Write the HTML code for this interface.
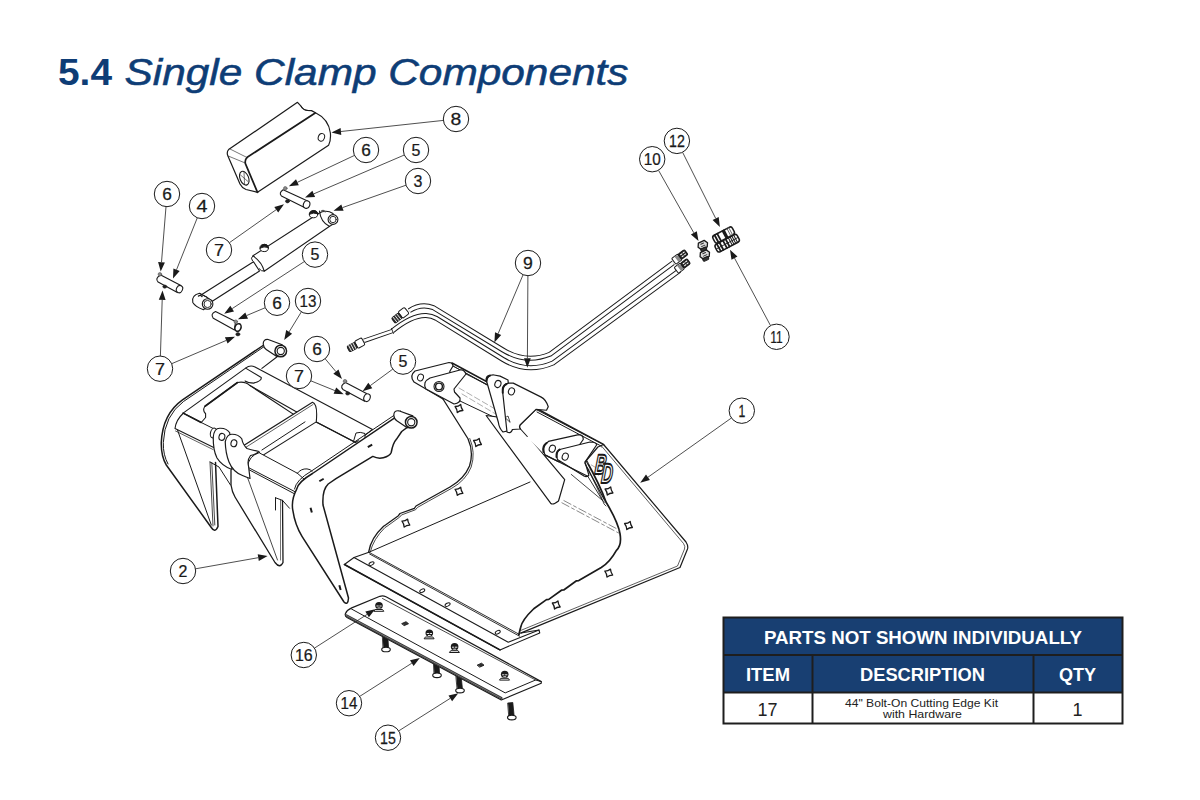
<!DOCTYPE html>
<html><head><meta charset="utf-8">
<style>
html,body{margin:0;padding:0;background:#fff;}
body{width:1200px;height:800px;overflow:hidden;position:relative;font-family:"Liberation Sans",sans-serif;}
svg{position:absolute;left:0;top:0;}
</style></head>
<body>
<svg width="1200" height="800" viewBox="0 0 1200 800" font-family="Liberation Sans">
<!-- TITLE -->
<g fill="#0e3d76">
<text x="58" y="85" font-size="37" font-weight="bold" textLength="54" lengthAdjust="spacingAndGlyphs">5.4</text>
<text x="124.5" y="85" font-size="37" font-style="italic" stroke="#0e3d76" stroke-width="0.55" textLength="504" lengthAdjust="spacingAndGlyphs">Single Clamp Components</text>
</g>
<!-- TABLE -->
<g>
<rect x="723.5" y="617.5" width="399" height="75" fill="#183f72"/>
<rect x="723.5" y="617.5" width="399" height="106" fill="none" stroke="#1e1e1e" stroke-width="2"/>
<line x1="723.5" y1="655" x2="1122.5" y2="655" stroke="#1e1e1e" stroke-width="2"/>
<line x1="723.5" y1="692.5" x2="1122.5" y2="692.5" stroke="#1e1e1e" stroke-width="2"/>
<line x1="812.5" y1="655" x2="812.5" y2="723.5" stroke="#1e1e1e" stroke-width="2"/>
<line x1="1033.5" y1="655" x2="1033.5" y2="723.5" stroke="#1e1e1e" stroke-width="2"/>
<g fill="#fff" font-weight="bold" font-size="18">
<text x="764" y="643.5" textLength="318" lengthAdjust="spacingAndGlyphs">PARTS NOT SHOWN INDIVIDUALLY</text>
<text x="746" y="681" textLength="44" lengthAdjust="spacingAndGlyphs">ITEM</text>
<text x="860" y="681" textLength="125" lengthAdjust="spacingAndGlyphs">DESCRIPTION</text>
<text x="1059" y="681" textLength="37" lengthAdjust="spacingAndGlyphs">QTY</text>
</g>
<g fill="#222" font-size="18">
<text x="767.5" y="716" text-anchor="middle">17</text>
<text x="1077.5" y="716" text-anchor="middle">1</text>
</g>
<g fill="#222" font-size="11">
<text x="845" y="707" textLength="153" lengthAdjust="spacingAndGlyphs">44" Bolt-On Cutting Edge Kit</text>
<text x="883" y="718" textLength="79" lengthAdjust="spacingAndGlyphs">with Hardware</text>
</g>
</g>
<!-- DIAGRAM -->
<g fill="#fff" stroke="#1a1a1a" stroke-width="1.2" stroke-linejoin="round" stroke-linecap="round">
<!-- 05_hoses.svg -->
<g id="p9" fill="none">
<!-- hose A (upper) -->
<path d="M409.3,310.7 Q421,303 433.3,307.6 L503,350 Q526,364 550,354.2 L673.25,262.75" stroke="#1a1a1a" stroke-width="5" stroke-linecap="butt"/>
<path d="M409.3,310.7 Q421,303 433.3,307.6 L503,350 Q526,364 550,354.2 L673.25,262.75" stroke="#fff" stroke-width="3" stroke-linecap="butt"/>
<!-- hose B (lower) -->
<path d="M392.3,331 Q412,315 426,315.5 Q432,316 436,318.2 L503,359.5 Q527,374 553,363 L679.5,270.5" stroke="#1a1a1a" stroke-width="5" stroke-linecap="butt"/>
<path d="M392.3,331 Q412,315 426,315.5 Q432,316 436,318.2 L503,359.5 Q527,374 553,363 L679.5,270.5" stroke="#fff" stroke-width="3" stroke-linecap="butt"/>
<!-- thin tube B -->
<path d="M364,340.8 L392.5,331" stroke="#1a1a1a" stroke-width="4.4" stroke-linecap="butt"/>
<path d="M364,340.8 L392.5,331" stroke="#fff" stroke-width="2.6" stroke-linecap="butt"/>
<path d="M391.5,328.5 L393.5,333.5" stroke-width="0.8"/>
</g>
<g id="hosefit" stroke-width="1">
<!-- left fitting A -->
<g transform="translate(402,314) rotate(-38)">
<rect x="-2" y="-4" width="8" height="8" rx="1.5" fill="#fff"/>
<rect x="-11" y="-3.2" width="9" height="6.4" rx="1.5" fill="#333"/>
<path d="M-9,-3 v6 M-6.5,-3 v6 M-4,-3 v6" stroke="#fff" stroke-width="0.8"/>
</g>
<!-- left fitting B -->
<g transform="translate(358,344) rotate(-28)">
<rect x="-2" y="-4" width="8" height="8" rx="1.5" fill="#fff"/>
<rect x="-11" y="-3.2" width="9" height="6.4" rx="1.5" fill="#333"/>
<path d="M-9,-3 v6 M-6.5,-3 v6 M-4,-3 v6" stroke="#fff" stroke-width="0.8"/>
</g>
<!-- right fittings -->
<g transform="translate(677,259) rotate(-37)">
<rect x="-4" y="-3.6" width="7.5" height="7.2" rx="1" fill="#fff"/>
<path d="M-0.5,-3.6 L3.5,-2.5 L3.5,2.5 L-0.5,3.6 Z" fill="#888" stroke="none"/>
<rect x="3.5" y="-3" width="8" height="6" rx="1.5" fill="#222" stroke-width="1.2"/>
<path d="M5.5,-1.2 h1.5 M8.5,-1.2 h1.5 M5.5,1.2 h1.5 M8.5,1.2 h1.5" stroke="#fff" stroke-width="1"/>
</g>
<g transform="translate(679.5,268) rotate(-37)">
<rect x="-4" y="-3.6" width="7.5" height="7.2" rx="1" fill="#fff"/>
<path d="M-0.5,-3.6 L3.5,-2.5 L3.5,2.5 L-0.5,3.6 Z" fill="#888" stroke="none"/>
<rect x="3.5" y="-3" width="8" height="6" rx="1.5" fill="#222" stroke-width="1.2"/>
<path d="M5.5,-1.2 h1.5 M8.5,-1.2 h1.5 M5.5,1.2 h1.5 M8.5,1.2 h1.5" stroke="#fff" stroke-width="1"/>
</g>
</g>
<g id="p10-12" stroke-width="1">
<!-- adapters 10 -->
<g transform="translate(702.8,245) rotate(-25)">
<path d="M-3.2,-3.6 h6.4 l2,3.6 l-2,3.6 h-6.4 l-2,-3.6 z" fill="#ddd" stroke-width="1.3"/>
<path d="M-1.5,-1.5 h3 M-1.8,1 h3.6" stroke="#333" stroke-width="1"/>
<rect x="-4" y="2.8" width="6" height="3.2" rx="1.2" fill="#333"/>
</g>
<g transform="translate(704.8,254.5) rotate(-25)">
<path d="M-3.2,-3.6 h6.4 l2,3.6 l-2,3.6 h-6.4 l-2,-3.6 z" fill="#ddd" stroke-width="1.3"/>
<path d="M-1.5,-1.5 h3 M-1.8,1 h3.6" stroke="#333" stroke-width="1"/>
<rect x="-4" y="2.8" width="6" height="3.2" rx="1.2" fill="#333"/>
</g>
<!-- coupler 11/12 : lower cylinder -->
<g transform="translate(727.2,243.2) rotate(-28)">
<rect x="-12.5" y="-4.2" width="25" height="8.4" rx="2.5" fill="#fff" stroke-width="1.5"/>
<path d="M-9.5,-4 v8 M-6.5,-4 v8 M-2.5,-4 v8 M0.5,-4 v8" stroke-width="1.8"/>
<path d="M3.5,-4 v8 M5.5,-4 v8 M7.5,-4 v8 M9.5,-4 v8" stroke-width="1"/>
<path d="M-12,0 h24" stroke-width="0.8"/>
</g>
<!-- upper cylinder -->
<g transform="translate(723.6,235) rotate(-28)">
<rect x="-11" y="-4.2" width="22" height="8.4" rx="2.5" fill="#fff" stroke-width="1.5"/>
<path d="M-8,-4 v8 M-5,-4 v8 M1,-4 v8 M2.5,-4 v8" stroke-width="1.8"/>
<path d="M6,-4 v8 M8,-4 v8" stroke-width="0.8" stroke="#555"/>
</g>
</g>

<!-- 10_box8.svg -->
<g id="p8">
<path d="M297.5,102.3 L228.6,149.6 Q226.6,151.6 227.6,155.2 L240,184 Q242,188 246,189.5 L257.5,192.3 L328.6,145.2 Q331,141 330.4,133 Q328.5,119 315.5,112.8 L311.5,110.6 L307.5,110.4 Q303,109.8 301,106.2 Z" stroke-width="1.2"/>
<path d="M301,106.2 Q303.5,111 309,110.6" fill="none" stroke-width="0.9"/>
<path d="M315.2,113 L247.2,157.3 Q244.6,159.6 245.4,163.6 L257.5,192.3" fill="none" stroke-width="1.7"/>
<path d="M230,149 L246.8,157.4 M228.2,156 L245.2,163" fill="none" stroke-width="0.6"/>
<ellipse cx="244.3" cy="178.2" rx="4.3" ry="7.2" transform="rotate(-22 244.3 178.2)" stroke-width="1.1"/>
<path d="M240.5,175 L248,181.5 M244,172 L244.6,184.5" fill="none" stroke-width="0.6"/>
<ellipse cx="321.4" cy="137.3" rx="3.1" ry="3.9" transform="rotate(20 321.4 137.3)" stroke-width="1"/>
</g>

<!-- 20_cyl3.svg -->
<g id="p3">
<!-- rod -->
<path d="M201,295 L253.5,261.7 L259.5,271 L211.5,301.8 Z" stroke-width="1.1"/>
<!-- rod end block & eye -->
<path d="M199.5,293.3 Q191,295.5 192.8,302.5 Q195,306.5 203.5,309.8 L212.5,301.5 L206.5,297 Z" stroke-width="1.1"/>
<path d="M199.5,293.5 L206.5,297" fill="none" stroke-width="1"/>
<circle cx="207.6" cy="304" r="5.3" stroke-width="1.1"/>
<circle cx="207.6" cy="304" r="3.6" stroke-width="0.9"/>
<path d="M198.5,296 q2,-1.5 3.5,0.5" fill="none" stroke-width="1.4"/>
<!-- barrel -->
<path d="M252.9,255.8 L318.5,213.5 Q326,209 333,213.5 Q339,222 330,226 L264.2,271.2 Q262,262 252.9,255.8 Z" stroke-width="1.1"/>
<path d="M252.9,255.8 Q250,258 252.4,260.8 M259.1,268.7 Q261,271.5 264.2,271.2" fill="none" stroke-width="1"/>
<path d="M319.5,211 Q320.5,222 329.6,226.5" fill="none" stroke-width="1.1"/>
<circle cx="333" cy="219.5" r="4.9" stroke-width="1.1"/>
<circle cx="333" cy="219.5" r="3.2" stroke-width="0.9"/>
<path d="M321.5,211 q2,-1.5 3.8,0.8" fill="none" stroke-width="1.4" stroke="#555"/>
<!-- grease fittings -->
<ellipse cx="264.2" cy="248" rx="4.2" ry="3.6" stroke-width="1"/>
<path d="M260.2,248 Q261,244.5 264.5,244.3 Q268,244.5 268.3,247.5 Q264,246 260.2,248 Z" fill="#1a1a1a" stroke-width="1"/>
<ellipse cx="313.5" cy="214.2" rx="4.2" ry="3.6" stroke-width="1"/>
<path d="M309.5,214.2 Q310.3,210.7 313.8,210.5 Q317.3,210.7 317.6,213.7 Q313.3,212.2 309.5,214.2 Z" fill="#1a1a1a" stroke-width="1"/>
</g>

<!-- 30_pins.svg -->
<g id="pins">
<!-- top pin 5 -->
<path d="M283.1,189.8 L307.6,201.1 L305,207.7 L281.4,195.9 Q278.5,193 283.1,189.8 Z" stroke-width="1.1"/>
<ellipse cx="306.6" cy="204.6" rx="3.2" ry="3.8" transform="rotate(20 306.6 204.6)" stroke-width="1.1"/>
<circle cx="285.3" cy="188.3" r="1.8" fill="#888" stroke="#555" stroke-width="0.6"/>
<ellipse cx="287.5" cy="201.2" rx="2" ry="1.7" fill="#222" stroke="#222" stroke-width="0.6"/>
<!-- left pin 4 -->
<path d="M160.7,275.1 L180.9,285.6 L177.4,292.6 L158.1,282.1 Q154.5,278.5 160.7,275.1 Z" stroke-width="1.1"/>
<ellipse cx="179.5" cy="289.1" rx="3" ry="3.8" transform="rotate(25 179.5 289.1)" stroke-width="1.1"/>
<circle cx="159.9" cy="274.3" r="1.8" fill="#888" stroke="#555" stroke-width="0.6"/>
<ellipse cx="164.8" cy="286.6" rx="2" ry="1.6" fill="#222" stroke="#222" stroke-width="0.6"/>
<!-- mid pin 5 -->
<path d="M215.5,311.5 L235.5,321.5 L234.5,330 L213.3,318.3 Q210,314 215.5,311.5 Z" stroke-width="1.1"/>
<ellipse cx="238" cy="327.5" rx="3" ry="3.9" transform="rotate(20 238 327.5)" stroke-width="1.6"/>
<circle cx="235.8" cy="321.7" r="1.8" fill="#888" stroke="#555" stroke-width="0.6"/>
<ellipse cx="237.9" cy="334.2" rx="2" ry="1.7" fill="#222" stroke="#222" stroke-width="0.6"/>
<!-- lower pin 5 -->
<path d="M345.5,382.4 L366.5,393.4 L364.7,401.2 L342.9,389.4 Q339.5,385.5 345.5,382.4 Z" stroke-width="1.1"/>
<ellipse cx="367" cy="397.7" rx="3.1" ry="3.9" transform="rotate(22 367 397.7)" stroke-width="1.1"/>
<circle cx="345" cy="381.2" r="1.8" fill="#888" stroke="#555" stroke-width="0.6"/>
<ellipse cx="347.7" cy="393.4" rx="2" ry="1.7" fill="#222" stroke="#222" stroke-width="0.6"/>
</g>

<!-- 40_bucket.svg -->
<g id="p1" fill="none">
<!-- left plate bottom edge -->
<path d="M368.9,552.25 L530,482" stroke-width="1"/>
<!-- left plate stepped front curve (double) -->
<path d="M368.7,551.8 Q371,538 383.6,526.3 L385.5,525 L398.4,515.7 L400,513.5 L414.4,508.3 L416,506 L427.1,499.8 L450,487 Q464,479 469.5,466 Q474,452 468,438.75 L443,399" stroke-width="1.3"/>
<path d="M370.3,552 Q373,539.5 385,527.5 L387,526.3 L399.8,517 L401.4,515 L415.6,509.7 L417.5,507.4 L428.5,501.2 L451.5,488.4 Q465.8,480.5 471.2,467 Q475.8,452.5 469.8,438.5" stroke-width="0.8"/>
<!-- floor lip strip -->
<path d="M368.9,552.25 L354,557.5 L344.4,564.5 L500,649.9 L539.75,633 L539,630 L521,633" stroke-width="1.1"/>
<path d="M354,557.5 L508.25,642.2 L539,630" stroke-width="1.1"/>
<path d="M368.9,552.25 L519.5,634.5 M369.6,554 L519.5,636.2" stroke-width="0.9"/>
<path d="M344.4,564.5 L500,649.9" stroke-width="1.6"/>
<g stroke-width="1" fill="#fff">
<ellipse cx="371.5" cy="563.6" rx="2.7" ry="1.5" transform="rotate(-28 371.5 563.6)"/>
<ellipse cx="422.25" cy="590.7" rx="2.7" ry="1.5" transform="rotate(-28 422.25 590.7)"/>
<ellipse cx="447.6" cy="604.6" rx="2.7" ry="1.5" transform="rotate(-28 447.6 604.6)"/>
<ellipse cx="497.75" cy="632.2" rx="2.7" ry="1.5" transform="rotate(-28 497.75 632.2)"/>
</g>
<!-- right plate -->
<path d="M604,445 L686,542 Q688.5,546 687.5,549 L680,567.5 L520.6,633.1" stroke-width="1.2"/>
<path d="M601.5,446 L683.5,543.5 Q685.5,546.5 684.5,549 L677.5,566 L520.6,630.5" stroke-width="0.7"/>
<path d="M586,460 L600,445 M586,460 Q600,485 606,502 Q618,522 620,533.75 Q622,545 616.25,550.6 Q610,562 601.25,567.5 L578.75,580.6 L576.5,580.8 L563.75,590 L561.5,590.2 L548.75,599.4 L546.5,599.6 L533.75,608.75 Q522,620 520.6,627.5 L518.75,635" stroke-width="1.7"/>
<path d="M586,466 Q598,488 604,504 L606,506" stroke-width="0.8"/>
<!-- dashed hidden lines -->
<path d="M561.9,502.8 L620,533.75 M563.9,500.6 L620,530.5" stroke-width="0.7" stroke="#555" stroke-dasharray="8,3,3,3"/>
<path d="M459,388 L600,470 M462,394 L600,476" stroke-width="0.6" stroke="#777" stroke-dasharray="6,3"/>
<!-- top beam -->
<path d="M452,363 L603.5,444.5" stroke-width="1.6"/>
<path d="M453,366 L601.5,447" stroke-width="0.7"/>
<path d="M453,366 L487,385" stroke-width="1"/>
<path d="M460,401 L500,420" stroke-width="1"/>
<path d="M524.4,438.75 L545,450" stroke-width="1"/>
<path d="M571.25,474.4 L605,502.5" stroke-width="0.8"/>
<!-- tapered plate -->
<path d="M486.1,415.5 L550.6,503.2 Q553,505.5 558.5,501 L564.7,479.6 L532.6,441.4 L520,420 Z" fill="#fff" stroke-width="1.2"/>
<!-- lug B (back left) -->
<path d="M415,371 L449,362.5 Q452.5,362.5 453,366 L450,371 L443,399 L414,382 Q409,376 415,371 Z" fill="#fff" stroke-width="1.2"/>
<ellipse cx="420.5" cy="377.5" rx="2.9" ry="3.4" transform="rotate(20 420.5 377.5)" stroke-width="1"/>
<!-- lug A (front left) -->
<path d="M430,378 L460,370 Q464,369 466,374 L454,389 L454.5,392 L460,398 Q461,403 454,404 L426,389 Q422,382 430,378 Z" fill="#fff" stroke-width="1.2"/>
<circle cx="439" cy="386.5" r="5" stroke-width="1.1"/>
<circle cx="439" cy="386.5" r="3.4" stroke-width="1.4"/>
<!-- beam between A and C -->
<path d="M466,374 L490,386" stroke-width="0.9"/>
<!-- lug C -->
<path d="M486.5,381 Q488,374.5 494,375 L500.1,376.1 L508,380 L512,430 L503,432 Q499,428 498.4,422.5 L487.9,385.75 Z" fill="#fff" stroke-width="1.2"/>
<path d="M486.5,381 Q486,376 490,375.5" fill="none" stroke-width="2"/>
<ellipse cx="497.9" cy="384" rx="3" ry="3.6" transform="rotate(20 497.9 384)" stroke-width="1.1"/>
<!-- beam block right of D -->
<path d="M524.75,420 L536,409.4 L603,444.5 L585,462.2 L545,454.9 L527,436.9 Q523,440 522.5,439.1 L519.6,426 Q519,423.5 524.75,420 Z" fill="#fff" stroke="none"/>
<path d="M536,409.4 L520,425 Q518.8,427.5 520.5,429 L527.25,436.5" fill="none" stroke-width="1.1"/>
<path d="M536,409.4 L603,444.5 M537,412 L601,446" fill="none" stroke-width="1"/>
<!-- lug D -->
<path d="M502.75,392.75 Q502,384 508.9,383.1 L513.25,383.1 L541.25,397.1 Q546,399.5 548.25,406.75 L546.5,410.25 L536,409.4 L520,425 Q518.8,427.5 520.5,429 L512.4,429.5 Q511,434 507,432 Z" fill="#fff" stroke-width="1.2"/>
<path d="M502.75,392.75 Q502,386 506.5,384" fill="none" stroke-width="2"/>
<path d="M505.5,417.5 L508,416 L510,422 Z" fill="#fff" stroke-width="0.8"/>
<ellipse cx="511.5" cy="391.4" rx="3" ry="3.6" transform="rotate(20 511.5 391.4)" stroke-width="1.1"/>
<!-- lug E -->
<path d="M545,454.9 Q541,447 548.4,441.4 L578.75,434.6 Q583.5,435 583.25,439.5 L570,458 L558.5,461.6 Z" fill="#fff" stroke-width="1.2"/>
<path d="M543.5,452 Q542,446 546.5,443" fill="none" stroke-width="2"/>
<ellipse cx="552.3" cy="448.7" rx="3" ry="3.6" transform="rotate(20 552.3 448.7)" stroke-width="1.1"/>
<!-- lug F -->
<path d="M557.4,459.4 Q555,452 560.75,449.25 L590,442 Q595.5,442 596.75,444.75 L585,462.2 L588.9,475.1 Q587,477.5 584,476 Z" fill="#fff" stroke-width="1.2"/>
<path d="M556.5,457 Q556,451.5 559.5,449.5" fill="none" stroke-width="2"/>
<ellipse cx="565.25" cy="456.6" rx="3" ry="3.6" transform="rotate(20 565.25 456.6)" stroke-width="1.1"/>
<path d="M545,454.9 L587.75,476.25" fill="none" stroke-width="1.1"/>
<!-- right plate top corner w/ logo -->
<path d="M585,462.2 L597.9,447 L603.5,444.5" fill="none" stroke-width="1.2"/>
<path d="M585,463.5 L604.5,500" fill="none" stroke-width="1.2"/>
<path d="M587.75,476.25 L602.25,500" fill="none" stroke-width="0.9"/>
<g font-weight="bold" font-style="italic" fill="#fff" stroke="#1a1a1a" stroke-width="1.9" font-size="28">
<text transform="translate(594.2,473.6) skewX(-5) scale(0.56,1)" x="0" y="0">B</text>
<text transform="translate(600.8,483.4) skewX(-5) scale(0.56,1)" x="0" y="0">D</text>
</g>
<!-- bolts -->
<g stroke-width="1.3" fill="#fff">
<path transform="translate(459 408.5) rotate(-20)" d="M-3,-3.2 Q0,-2 3,-3.2 Q2,0 3,3.2 Q0,2 -3,3.2 Q-2,0 -3,-3.2 Z"/>
<path transform="translate(459 491.3) rotate(-20)" d="M-3,-3.2 Q0,-2 3,-3.2 Q2,0 3,3.2 Q0,2 -3,3.2 Q-2,0 -3,-3.2 Z"/>
<path transform="translate(405.9 523.1) rotate(-20)" d="M-3,-3.2 Q0,-2 3,-3.2 Q2,0 3,3.2 Q0,2 -3,3.2 Q-2,0 -3,-3.2 Z"/>
<path transform="translate(609 491) rotate(-20)" d="M-3,-3.2 Q0,-2 3,-3.2 Q2,0 3,3.2 Q0,2 -3,3.2 Q-2,0 -3,-3.2 Z"/>
<path transform="translate(628.5 525.5) rotate(-20)" d="M-3,-3.2 Q0,-2 3,-3.2 Q2,0 3,3.2 Q0,2 -3,3.2 Q-2,0 -3,-3.2 Z"/>
<path transform="translate(608.75 573.1) rotate(-20)" d="M-3,-3.2 Q0,-2 3,-3.2 Q2,0 3,3.2 Q0,2 -3,3.2 Q-2,0 -3,-3.2 Z"/>
<path transform="translate(556.25 605) rotate(-20)" d="M-3,-3.2 Q0,-2 3,-3.2 Q2,0 3,3.2 Q0,2 -3,3.2 Q-2,0 -3,-3.2 Z"/>
<path transform="translate(477.5 442.5) rotate(-20)" d="M-3,-3.2 Q0,-2 3,-3.2 Q2,0 3,3.2 Q0,2 -3,3.2 Q-2,0 -3,-3.2 Z"/>
</g>
</g>

<!-- 50_clamp.svg -->
<g id="p2">
<!-- left arm outer plate w/ tine -->
<path d="M267.5,342.5 L182.5,399.8 Q162.5,414 161.3,442.5 Q161,456 166.3,465 L211.3,527.5 Q215,533.5 218,526.5 L215.5,462.5 L230,470 L275,562.5 Q280,569 283,562.5 L282.5,498.8 L291.3,505 L296.7,490 Q300,477 312.5,473.5 L401.7,413.1 L412,423 L372.8,456.4 L336,478.7 Q326,484 323,505 L347.9,596.7 Q349,604 344,602 L302,536.4 Q290,520 292.8,505 L275,500 L215,470 L200,440 L183,413 L183,413 Z" fill="#fff" stroke="none"/>
<path d="M267.5,342.5 L182.5,399.8 Q162.5,414 161.3,442.5 Q161,456 166.3,465 L211.3,527.5 Q215,533.5 218,526.5 L215.5,462.5" fill="none" stroke-width="1.5"/>
<path d="M266.5,345 L183.5,401.5 Q164.5,415.5 163.3,442.5 Q163,455 168,464" fill="none" stroke-width="1"/>
<path d="M177.5,430 L211.3,525" fill="none" stroke-width="1"/>
<path d="M210,462 L213,526 M211.8,462.5 L214.8,525" fill="none" stroke-width="0.8"/>
<!-- bushing 13 & link -->
<path d="M277.8,356.25 L261.9,368.4" fill="none" stroke-width="1.1"/>
<path d="M282.2,344.7 L268.2,339.5 Q263.2,339.0 263.2,344.0 Q263.8,348.0 266.2,349.5 L276.8,356.5 Z" fill="#fff" stroke-width="1.2"/>
<circle cx="280.75" cy="351" r="5.8" fill="#fff" stroke-width="1.5"/>
<circle cx="280.75" cy="351" r="3.6" stroke-width="1.1"/>
<!-- top frame plate -->
<path d="M183.1,413.1 L245.6,368.1 Q250,364.5 255,366.9 L372.5,429.4 L355.6,442.5 L295,411 L250,385.6 Q245,381 237.5,382.5 L205,406.25 Q202,410 205.6,413.75 L205.6,417.5 L201.25,422.5 Z" fill="#fff" stroke-width="1.1"/>
<path d="M245.6,368.1 L261.25,377.5 Q262,381 253.75,383.1 Q248,383 245,381" fill="none" stroke-width="1.1"/>
<path d="M237.5,382.5 L205,406.25" fill="none" stroke-width="1.6"/>
<path d="M183.1,413.1 L201.25,422.5" fill="none" stroke-width="1.6"/>
<path d="M201.25,422.5 L216.25,430" fill="none" stroke-width="1"/>
<!-- opening edges -->
<path d="M250,385.6 L305,421.9" fill="none" stroke-width="1.1"/>
<path d="M316.25,421.9 L355.6,442.5" fill="none" stroke-width="1.1"/>
<!-- arm inner / tine panel top -->
<path d="M183,413.5 Q176,420 175,428.5 L213.75,447.5" fill="none" stroke-width="1.1"/>
<path d="M175.5,431 L213,449.5" fill="none" stroke-width="0.7"/>

<!-- middle cross beam -->
<path d="M242.5,446.25 L312.5,402.2 Q318,404 316.25,421.9 L247.5,465" fill="#fff" stroke-width="1.1"/>
<path d="M244,448.5 L313,404.5" fill="none" stroke-width="0.7"/>
<path d="M261.9,450 L305,421.9" fill="none" stroke-width="1"/>
<!-- lower cross tube -->
<path d="M259.75,453.1 L297.4,473.25 L304.4,479.4 L296.5,492.5 L247.5,467.1 Q248.5,455.5 259.75,453.1 Z" fill="#fff" stroke="none"/>
<path d="M259.75,453.1 L297.4,473.25 M247.5,467.1 L296.5,492.5 M248,469.2 L296,494.6 M259.75,452.4 Q248.5,455.5 247.5,467.1" fill="none" stroke-width="1"/>
<path d="M297.4,473.25 L304.4,479.4 M297.4,473.25 Q301,468.5 307,468.9 Q310.5,469 312.25,471.5" fill="#fff" stroke-width="1"/>
<path d="M275.5,497.75 L275.5,510 M275.5,497.75 L282.5,500.4 L289.5,508.25" fill="none" stroke-width="1"/>
<!-- middle tine -->
<path d="M231,470 L231,485 Q232,492 235,497 L275,562.5 Q280,569 283,562.5 L282.5,500.5" fill="none" stroke-width="1.3"/>
<path d="M210,462 L219,467 L230.5,485" fill="none" stroke-width="1"/>
<path d="M247.5,477.5 L277.5,560" fill="none" stroke-width="0.8"/>
<path d="M280.5,500 L280.5,560" fill="none" stroke-width="0.6"/>
<!-- tabs -->
<path d="M353.75,440.6 L356,433 Q360,431.5 365,433.5 L365,440" fill="#fff" stroke-width="1"/>

<!-- right arm plate -->
<path d="M401.7,413.1 L312.5,473.5 Q298,482 296.7,489.2 Q291,500 292.8,510.2 Q295,525 302,536.4 L344,602 Q348,606 348.5,598 L323,505 Q322,490 328.2,484 L336,478.7 L372.8,456.4 Q378,459 383.3,457.7 Q390,456 391.2,452.5 Q393,443 396.4,439.3 L401.7,431.5 L412.2,423.6" fill="#fff" stroke-width="1.5"/>
<path d="M400.5,411 L311.5,471 Q296,480 294.5,489" fill="none" stroke-width="1"/>
<path d="M412.8,415.9 L398.8,410.8 Q393.8,410.2 393.8,415.2 Q394.2,419.2 396.8,420.8 L407.2,427.8 Z" fill="#fff" stroke-width="1.2"/>
<circle cx="411.25" cy="422.25" r="5.8" fill="#fff" stroke-width="1.5"/>
<circle cx="411.25" cy="422.25" r="3.6" stroke-width="1.1"/>
<g fill="#1a1a1a" stroke="none">
<rect x="367.5" y="444.8" width="5" height="2" transform="rotate(-30 370 445.8)"/>
<rect x="319" y="479" width="5" height="2" transform="rotate(-30 321.5 480)"/>
<rect x="310.2" y="507.7" width="2" height="5" transform="rotate(-15 311.2 510.2)"/>
<rect x="339" y="585.1" width="2" height="5" transform="rotate(-15 340 587.6)"/>
</g>
<!-- lugs -->
<ellipse cx="213.5" cy="433" rx="3" ry="5" transform="rotate(15 213.5 433)" stroke-width="1.1"/>
<path d="M213.25,437.25 Q214,428 220,428.25 Q226.5,428 229.75,432.75 L229.75,436 L232,469.5 Q222,466 217,458 Q213,450 213.25,437.25 Z" fill="#fff" stroke-width="1.2"/>
<ellipse cx="221.9" cy="436.9" rx="2.9" ry="3.5" transform="rotate(15 221.9 436.9)" stroke-width="1.1"/>
<path d="M225.25,441.75 Q227,434 232,434.25 Q238.5,434.2 241.75,438.75 Q243,445 247,448.5 Q252,450 259,451.5 Q255,455 250.5,455.5 Q247,460 248.5,466 L250,478.5 Q246,477 242.5,475.5 Q233,472 229,462 Q225.5,453 225.25,441.75 Z" fill="#fff" stroke-width="1.2"/>
<ellipse cx="233.9" cy="443.25" rx="2.9" ry="3.5" transform="rotate(15 233.9 443.25)" stroke-width="1.1"/>
</g>

<!-- 60_edge.svg -->
<g id="p14">
<!-- bolts 15 (below edge) -->
<g fill="#1a1a1a" stroke="#1a1a1a" stroke-width="0.8">
<path d="M382.6,634 L387.6,633.5 L388.6,648.5 L383.4,649 Z"/>
<path d="M433.6,659.8 L438.6,659.3 L439.6,674.3 L434.4,674.8 Z"/>
<path d="M456.2,675.5 L461,675 L462.5,689.5 L457.5,690 Z"/>
<path d="M508,703 L512.8,702.5 L514.2,716.5 L509.2,717 Z"/>
</g>
<g fill="#fff" stroke="#1a1a1a" stroke-width="1.1">
<ellipse cx="386" cy="649.5" rx="4.3" ry="2.3"/>
<ellipse cx="437" cy="675.3" rx="4.3" ry="2.3"/>
<ellipse cx="460" cy="690.6" rx="4.3" ry="2.3"/>
<ellipse cx="511.8" cy="717.6" rx="4.3" ry="2.3"/>
</g>
<!-- cutting edge plate -->
<path d="M345.5,613.4 Q344.5,616 347,617.5 L501.3,700 L541.25,683.3 L541.25,681.6 L386,596.8 Q383,595.4 379.9,596.3 L351.7,607.9 Q347,610 345.5,613.4 Z" fill="#fff" stroke-width="1.2"/>
<path d="M382.5,598.5 L535.6,680" fill="none" stroke-width="0.8"/>
<path d="M351.5,609 L505.2,692.9 L535.6,680 L541.25,681.6" fill="none" stroke-width="1"/>
<path d="M346.5,615.6 L501.3,698.2" fill="none" stroke="#333" stroke-width="2.6"/>
<path d="M346.5,615.6 L501.3,698.2" fill="none" stroke="#aaa" stroke-width="0.6" stroke-dasharray="0.8,0.8"/>
<!-- nuts 16 -->
<g>
<g transform="translate(379,605.5)"><path d="M-3.5,4 h7 l1.3,1.8 h-9.6 z" fill="#fff" stroke-width="1"/><ellipse cx="0" cy="0" rx="3.8" ry="3.6" fill="#1a1a1a" stroke="none"/><path d="M-2.2,0.5 h1.5 M0.8,0.5 h1.5 M-1,2.5 h2" stroke="#fff" stroke-width="0.9"/></g>
<g transform="translate(429.3,633)"><path d="M-3.5,4 h7 l1.3,1.8 h-9.6 z" fill="#fff" stroke-width="1"/><ellipse cx="0" cy="0" rx="3.8" ry="3.6" fill="#1a1a1a" stroke="none"/><path d="M-2.2,0.5 h1.5 M0.8,0.5 h1.5 M-1,2.5 h2" stroke="#fff" stroke-width="0.9"/></g>
<g transform="translate(454.6,646.7)"><path d="M-3.5,4 h7 l1.3,1.8 h-9.6 z" fill="#fff" stroke-width="1"/><ellipse cx="0" cy="0" rx="3.8" ry="3.6" fill="#1a1a1a" stroke="none"/><path d="M-2.2,0.5 h1.5 M0.8,0.5 h1.5 M-1,2.5 h2" stroke="#fff" stroke-width="0.9"/></g>
<g transform="translate(504.7,674.3)"><path d="M-3.5,4 h7 l1.3,1.8 h-9.6 z" fill="#fff" stroke-width="1"/><ellipse cx="0" cy="0" rx="3.8" ry="3.6" fill="#1a1a1a" stroke="none"/><path d="M-2.2,0.5 h1.5 M0.8,0.5 h1.5 M-1,2.5 h2" stroke="#fff" stroke-width="0.9"/></g>
</g>
<g fill="#333" stroke-width="0.9">
<path d="M402,623.5 l4,-1.8 l2.5,2 l-4,1.8 z"/>
<path d="M477.5,665 l4,-1.8 l2.5,2 l-4,1.8 z"/>
</g>
</g>


</g>
<!-- CALLOUTS -->
<path d="M443.4,120.4L340.9,131.5M354.5,155.4L297.4,182.3M404.3,155.0L313.7,193.9M406.0,185.2L342.5,207.6M166.0,206.7L161.5,262.1M197.3,217.8L176.5,269.8M229.4,242.7L276.2,209.7M304.4,261.5L232.2,308.6M265.3,307.7L246.7,315.5M301.4,311.8L289.1,331.9M160.4,356.0L162.2,299.9M171.7,363.7L226.3,340.4M325.1,358.7L335.9,371.6M310.8,380.8L334.9,390.6M392.8,369.1L370.3,385.6M523.1,274.7L498.1,333.7M527.9,275.7L527.4,358.3M658.5,170.3L693.8,232.8M682.6,152.3L715.7,218.4M770.5,325.6L734.5,258.1M731.4,418.0L648.0,477.2M195.5,568.8L258.2,557.7M314.5,648.1L367.1,614.4M359.7,696.4L411.8,663.2M398.7,730.9L450.3,698.3" fill="none" stroke="#222" stroke-width="0.8"/>
<path d="M331.5,132.5L340.6,128.1L341.3,134.9ZM288.8,186.3L296.0,179.2L298.8,185.3ZM305.0,197.6L312.4,190.7L315.1,197.0ZM333.5,210.8L341.3,204.4L343.6,210.8ZM160.7,271.6L158.1,261.9L164.9,262.4ZM173.0,278.6L173.4,268.5L179.7,271.0ZM284.0,204.2L278.2,212.5L274.3,206.9ZM224.2,313.8L230.3,305.7L234.0,311.4ZM237.9,319.2L245.3,312.4L248.0,318.7ZM284.2,340.0L286.2,330.1L292.1,333.7ZM162.5,290.4L165.6,300.0L158.8,299.8ZM235.0,336.7L227.6,343.6L224.9,337.3ZM342.0,378.9L333.3,373.8L338.5,369.4ZM343.7,394.2L333.6,393.8L336.2,387.5ZM362.6,391.2L368.3,382.8L372.3,388.3ZM494.4,342.4L495.0,332.3L501.2,335.0ZM527.3,367.8L524.0,358.3L530.8,358.3ZM698.5,241.1L690.9,234.5L696.8,231.2ZM719.9,226.9L712.6,219.9L718.7,216.9ZM730.0,249.8L737.5,256.5L731.5,259.7ZM640.2,482.7L646.0,474.4L649.9,480.0ZM267.6,556.0L258.8,561.0L257.7,554.3ZM375.1,609.3L368.9,617.3L365.3,611.6ZM419.8,658.1L413.6,666.1L410.0,660.3ZM458.3,693.2L452.1,701.2L448.5,695.4Z" fill="#1a1a1a"/>
<g fill="#fff" stroke="#1a1a1a" stroke-width="1"><circle cx="456" cy="119" r="12.7"/><circle cx="366" cy="150" r="12.7"/><circle cx="416" cy="150" r="12.7"/><circle cx="418" cy="181" r="12.7"/><circle cx="167" cy="194" r="12.7"/><circle cx="202" cy="206" r="12.7"/><circle cx="219" cy="250" r="12.7"/><circle cx="315" cy="254.6" r="12.7"/><circle cx="277" cy="302.8" r="12.7"/><circle cx="308" cy="301" r="12.7"/><circle cx="160" cy="368.7" r="12.7"/><circle cx="317" cy="349" r="12.7"/><circle cx="299" cy="376" r="12.7"/><circle cx="403" cy="361.6" r="12.7"/><circle cx="528" cy="263" r="12.7"/><circle cx="652.2" cy="159.2" r="12.7"/><circle cx="676.9" cy="140.9" r="12.7"/><circle cx="776.5" cy="336.8" r="12.7"/><circle cx="741.8" cy="410.7" r="12.7"/><circle cx="183" cy="571" r="12.7"/><circle cx="303.8" cy="655" r="12.7"/><circle cx="349" cy="703.2" r="12.7"/><circle cx="388" cy="737.7" r="12.7"/></g>
<g fill="#1a1a1a" stroke="#1a1a1a" stroke-width="0.25" font-size="16.3" text-anchor="middle"><text transform="translate(456,124.8) scale(1.19,1)" x="0" y="0">8</text><text transform="translate(366,155.8) scale(1.06,1)" x="0" y="0">6</text><text transform="translate(416,155.8) scale(0.98,1)" x="0" y="0">5</text><text transform="translate(418,186.8) scale(0.98,1)" x="0" y="0">3</text><text transform="translate(167,199.8) scale(1.06,1)" x="0" y="0">6</text><text transform="translate(202,211.8) scale(1.21,1)" x="0" y="0">4</text><text transform="translate(219,255.8) scale(1.1,1)" x="0" y="0">7</text><text transform="translate(315,260.4) scale(0.98,1)" x="0" y="0">5</text><text transform="translate(277,308.6) scale(1.06,1)" x="0" y="0">6</text><text transform="translate(308,306.8) scale(0.93,1)" x="0" y="0">13</text><text transform="translate(160,374.5) scale(1.1,1)" x="0" y="0">7</text><text transform="translate(317,354.8) scale(1.06,1)" x="0" y="0">6</text><text transform="translate(299,381.8) scale(1.1,1)" x="0" y="0">7</text><text transform="translate(403,367.40000000000003) scale(0.98,1)" x="0" y="0">5</text><text transform="translate(528,268.8) scale(1.08,1)" x="0" y="0">9</text><text transform="translate(652.2,165.0) scale(0.94,1)" x="0" y="0">10</text><text transform="translate(676.9,146.70000000000002) scale(0.87,1)" x="0" y="0">12</text><text transform="translate(776.5,342.6) scale(0.74,1)" x="0" y="0">11</text><text transform="translate(741.8,416.5) scale(0.75,1)" x="0" y="0">1</text><text transform="translate(183,576.8) scale(0.98,1)" x="0" y="0">2</text><text transform="translate(303.8,660.8) scale(0.98,1)" x="0" y="0">16</text><text transform="translate(349,709.0) scale(0.93,1)" x="0" y="0">14</text><text transform="translate(388,743.5) scale(0.87,1)" x="0" y="0">15</text></g>
</svg>
</body></html>
